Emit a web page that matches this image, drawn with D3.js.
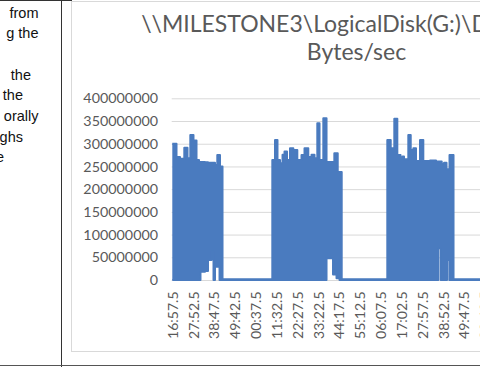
<!DOCTYPE html>
<html><head><meta charset="utf-8">
<script src="https://cdn.jsdelivr.net/npm/d3@7"></script>
<style>html,body{margin:0;padding:0;background:#fff;overflow:hidden}svg{display:block}</style>
</head><body><svg id="c" width="480" height="367"></svg>
<script>
// ---- data ----
const titleLines = ["\\\\MILESTONE3\\LogicalDisk(G:)\\Disk Read", "Bytes/sec"];
const sideText = ["from", "g the", "", "the", "the", "orally", "ghs", "e"];
const yTicks = [0, 50000000, 100000000, 150000000, 200000000, 250000000, 300000000, 350000000, 400000000];
const xLabels = ["16:57.5","27:52.5","38:47.5","49:42.5","00:37.5","11:32.5","22:27.5","33:22.5","44:17.5","55:12.5",
  "06:07.5","17:02.5","27:57.5","38:52.5","49:47.5","00:42.5","11:37.5","22:32.5","33:27.5","44:22.5","55:17.5","06:12.5"];
const xTickSec = [0,655,1310,1965,2620,3275,3930,4585,5240,5895,6550,7205,7860,8515,9170,9825,10480,11135,11790,12445,13100,13755];
// envelope of the dense series: seconds since first sample, upper and lower values (millions of bytes/sec)
const tSec = [0,132,242,377,478,566,666,761,839,886,1028,1122,1232,1295,1342,1414,1484,1499,1578,
  3143,3228,3306,3385,3464,3526,3605,3699,3803,3929,4061,4155,4274,4375,4469,4557,4627,4746,4847,5051,5092,5161,5199,5255,5324,
  6757,6864,6977,7072,7172,7235,7282,7417,7493,7575,7659,7785,7889,8100,8288,8360,8436,8467,8540,8618,8634,8706,8712,8838,14070];
const highM = [300,271,267,291,268,319,307,264,260,260,259,258,258,258,253,275,275,250,1.5,
  264,308,264,257,276,283,264,290,286,264,275,290,271,276,268,345,264,356,260,260,279,279,238,238,1.5,
  308,290,355,275,268,272,266,319,286,290,262,308,262,263,261,261,261,256,258,244,244,244,275,1.5,1.5];
const lowM = [0,0,0,0,0,0,0,0,0,18,20,44,62,0,29,29,0,0,0,
  0,0,0,0,0,0,0,0,0,0,0,0,0,0,0,0,0,0,48,12,12,4,4,0,0,
  0,0,0,0,0,0,0,0,0,0,0,0,0,0,0,70,0,0,0,0,44,0,0,0,0];

// ---- layout ----
const W = 480, H = 367;
const svg = d3.select("#c");
const blue = "#4a7bbf", grey = "#595959", font = "Lato, 'Open Sans', sans-serif";

// table cell text & borders
const sideEnds = [38.5, 38.5, 0, 31, 23, 38.5, 23, 4];
svg.append("g").selectAll("text").data(sideText).join("text")
  .attr("x", (d, i) => sideEnds[i]).attr("y", (d, i) => 17.5 + i * 20.7)
  .attr("text-anchor", "end").attr("font-family", "'Liberation Sans', Arial, sans-serif")
  .attr("font-size", 14.5).attr("fill", "#111").text(d => d);

// chart frame
svg.append("rect").attr("x", 71.5).attr("y", 1.5).attr("width", 571).attr("height", 350)
  .attr("fill", "#fff").attr("stroke", "#d9d9d9");

svg.append("line").attr("x1", 61.5).attr("x2", 61.5).attr("y1", 0).attr("y2", H).attr("stroke", "#333");
svg.append("line").attr("x1", 0).attr("x2", W).attr("y1", 365.5).attr("y2", 365.5).attr("stroke", "#555");
svg.append("line").attr("x1", 0).attr("x2", 72).attr("y1", 0.5).attr("y2", 0.5).attr("stroke", "#333");

// title
svg.append("g").selectAll("text").data(titleLines).join("text")
  .attr("x", 356.5).attr("y", (d, i) => 31.5 + i * 28.5)
  .attr("text-anchor", "middle").attr("font-family", font).attr("font-size", 23)
  .attr("fill", grey).text(d => d);

// scales
const x = d3.scaleLinear().domain([0, 14400]).range([172.3, 630.5]);
const y = d3.scaleLinear().domain([0, 400000000]).range([280, 98.3]);

// y axis with gridlines
const gy = svg.append("g").attr("transform", "translate(171.7,0)")
  .call(d3.axisLeft(y).tickValues(yTicks).tickFormat(d3.format("d"))
    .tickSize(-(630.5 - 171.7)).tickPadding(13.7));
gy.select(".domain").remove();
gy.selectAll(".tick line").attr("stroke", "#d9d9d9");
gy.selectAll(".tick text").attr("font-family", font).attr("font-size", 14.3).attr("fill", grey);

// data
const pts = tSec.map((t, i) => ({ t, hi: highM[i] * 1e6, lo: lowM[i] * 1e6 }));
const area = d3.area().x(d => x(d.t)).y0(d => y(d.lo)).y1(d => y(d.hi)).curve(d3.curveStepAfter);
const lineHi = d3.line().x(d => x(d.t)).y(d => y(d.hi)).curve(d3.curveStepAfter);
const lineLo = d3.line().x(d => x(d.t)).y(d => y(d.lo)).curve(d3.curveStepAfter);
svg.append("path").datum(pts).attr("d", area).attr("fill", blue);
svg.append("path").datum(pts).attr("d", lineHi).attr("fill", "none").attr("stroke", blue)
  .attr("stroke-width", 2).attr("stroke-linejoin", "round");
svg.append("path").datum(pts).attr("d", lineLo).attr("fill", "none").attr("stroke", blue)
  .attr("stroke-width", 2).attr("stroke-linejoin", "round");

// x axis
const gx = svg.append("g").attr("transform", "translate(0,280)")
  .call(d3.axisBottom(x).tickValues(xTickSec).tickFormat((d, i) => xLabels[i]).tickSize(0));
gx.select(".domain").remove();
gx.selectAll(".tick text").attr("transform", "rotate(-90)").attr("text-anchor", "end")
  .attr("x", -11.5).attr("y", 0).attr("dy", "0.35em")
  .attr("font-family", font).attr("font-size", 14).attr("fill", grey);
</script></body></html>
